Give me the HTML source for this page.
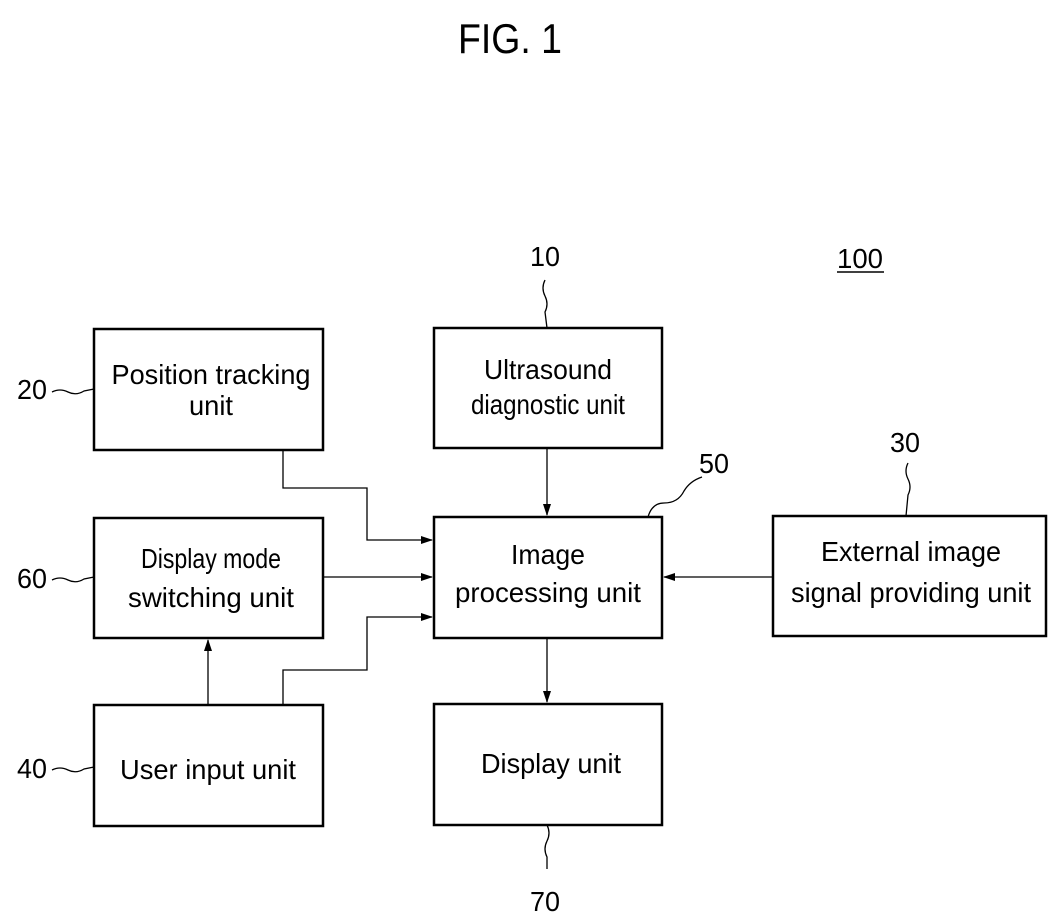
<!DOCTYPE html>
<html><head><meta charset="utf-8"><style>
html,body{margin:0;padding:0;background:#fff;}
svg{display:block;}
text{font-family:"Liberation Sans",Arial,sans-serif;fill:#000;}
</style></head><body>
<svg width="1063" height="921" viewBox="0 0 1063 921" xmlns="http://www.w3.org/2000/svg">
<defs>
<marker id="a" markerWidth="12" markerHeight="8" refX="11" refY="4" orient="auto" markerUnits="userSpaceOnUse">
<path d="M0,0 L12,4 L0,8 z" fill="#000"/></marker>
</defs>
<text x="510" y="53" font-size="42" text-anchor="middle" textLength="104" lengthAdjust="spacingAndGlyphs">FIG. 1</text>

<g fill="none" stroke="#000" stroke-width="2.5">
<rect x="94" y="329" width="229" height="121"/>
<rect x="434" y="328" width="228" height="120"/>
<rect x="94" y="518" width="229" height="120"/>
<rect x="434" y="517" width="228" height="121"/>
<rect x="773" y="516" width="273" height="120"/>
<rect x="94" y="705" width="229" height="121"/>
<rect x="434" y="704" width="228" height="121"/>
</g>

<g fill="none" stroke="#000" stroke-width="1.3">
<path d="M283,450 V488 H367 V540 H432" marker-end="url(#a)"/>
<path d="M323,577 H432" marker-end="url(#a)"/>
<path d="M283,705 V670 H367 V617 H432" marker-end="url(#a)"/>
<path d="M208,705 V640" marker-end="url(#a)"/>
<path d="M547,448 V515" marker-end="url(#a)"/>
<path d="M773,577 H664" marker-end="url(#a)"/>
<path d="M547,638 V702" marker-end="url(#a)"/>
<path d="M52,392 q8,-4 16,0 q8,4 16,-1 l10,-2"/>
<path d="M52,580 q8,-4 16,0 q8,4 16,-1 l10,-2"/>
<path d="M52,770 q8,-4 16,0 q8,4 16,-1 l10,-2"/>
<path d="M545,280 q-4,8 0,16 q4,8 0,16 l2,16"/>
<path d="M908,463 q-4,8 0,16 q4,8 0,16 l-2,21"/>
<path d="M547,825 q4,8 0,16 q-4,8 0,16 l0,12"/>
<path d="M648,517 q4,-14 16,-14 q14,0 20,-12 q6,-10 18,-14"/>
</g>

<g font-size="28">
<text x="545" y="266" text-anchor="middle" textLength="30" lengthAdjust="spacingAndGlyphs">10</text>
<text x="860" y="268" text-anchor="middle" textLength="46" lengthAdjust="spacingAndGlyphs">100</text>
<text x="32" y="399" text-anchor="middle" textLength="30" lengthAdjust="spacingAndGlyphs">20</text>
<text x="32" y="588" text-anchor="middle" textLength="30" lengthAdjust="spacingAndGlyphs">60</text>
<text x="32" y="778" text-anchor="middle" textLength="30" lengthAdjust="spacingAndGlyphs">40</text>
<text x="714" y="473" text-anchor="middle" textLength="30" lengthAdjust="spacingAndGlyphs">50</text>
<text x="905" y="452" text-anchor="middle" textLength="30" lengthAdjust="spacingAndGlyphs">30</text>
<text x="545" y="911" text-anchor="middle" textLength="30" lengthAdjust="spacingAndGlyphs">70</text>
</g>
<line x1="837" y1="272" x2="884" y2="272" stroke="#000" stroke-width="1.5"/>

<g font-size="28" text-anchor="middle">
<text x="211" y="384" textLength="199" lengthAdjust="spacingAndGlyphs">Position tracking</text>
<text x="211" y="415" textLength="44" lengthAdjust="spacingAndGlyphs">unit</text>
<text x="548" y="379" textLength="128" lengthAdjust="spacingAndGlyphs">Ultrasound</text>
<text x="548" y="414" textLength="154" lengthAdjust="spacingAndGlyphs">diagnostic unit</text>
<text x="211" y="568" textLength="140" lengthAdjust="spacingAndGlyphs">Display mode</text>
<text x="211" y="607" textLength="166" lengthAdjust="spacingAndGlyphs">switching unit</text>
<text x="548" y="564" textLength="74" lengthAdjust="spacingAndGlyphs">Image</text>
<text x="548" y="602" textLength="186" lengthAdjust="spacingAndGlyphs">processing unit</text>
<text x="911" y="561" textLength="180" lengthAdjust="spacingAndGlyphs">External image</text>
<text x="911" y="602" textLength="240" lengthAdjust="spacingAndGlyphs">signal providing unit</text>
<text x="208" y="779" textLength="176" lengthAdjust="spacingAndGlyphs">User input unit</text>
<text x="551" y="773" textLength="140" lengthAdjust="spacingAndGlyphs">Display unit</text>
</g>
</svg>
</body></html>
